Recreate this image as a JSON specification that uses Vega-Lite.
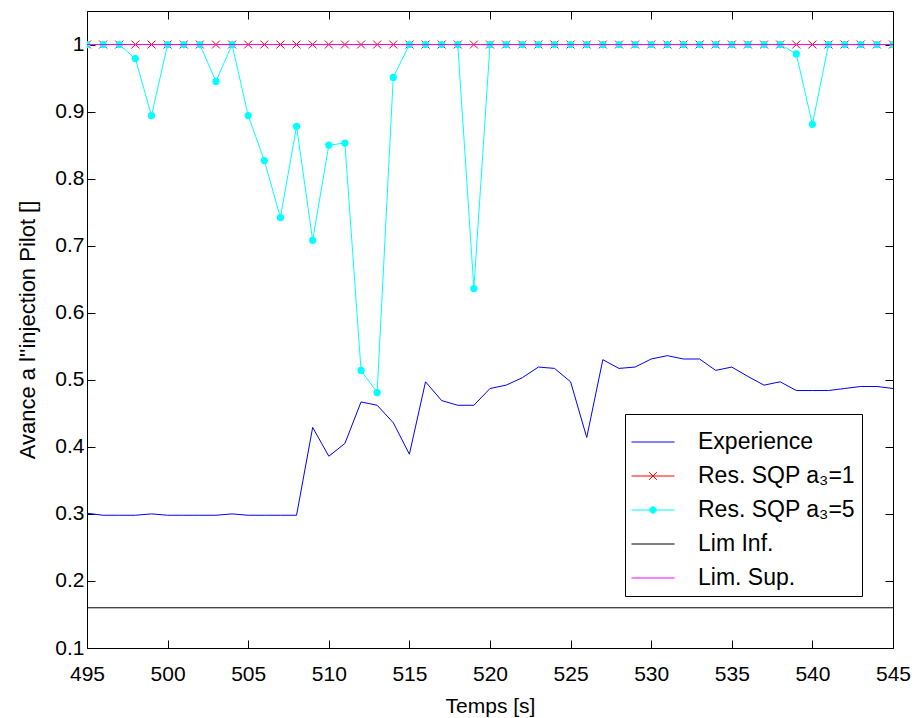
{
  "$schema": "https://vega.github.io/schema/vega-lite/v6.json",
  "width": 806,
  "height": 637,
  "autosize": {"type": "none"},
  "padding": {"left": 87, "top": 11, "right": 24, "bottom": 70},
  "background": "white",
  "config": {
    "font": "Liberation Sans",
    "view": {"stroke": "black", "strokeWidth": 1},
    "axis": {"grid": false, "domain": false, "tickColor": "black", "tickSize": -8, "tickWidth": 1, "labelColor": "black", "labelFontSize": 21, "labelFont": "Liberation Sans", "titleFont": "Liberation Sans", "titleFontSize": 21, "titleFontWeight": "normal", "titleColor": "black"}
  },
  "datasets": {
    "main": [
      {"t": 495, "exp": 0.301, "s1": 1, "s5": 1},
      {"t": 496, "exp": 0.298, "s1": 1, "s5": 1},
      {"t": 497, "exp": 0.298, "s1": 1, "s5": 1},
      {"t": 498, "exp": 0.298, "s1": 1, "s5": 0.979},
      {"t": 499, "exp": 0.300, "s1": 1, "s5": 0.894},
      {"t": 500, "exp": 0.298, "s1": 1, "s5": 1},
      {"t": 501, "exp": 0.298, "s1": 1, "s5": 1},
      {"t": 502, "exp": 0.298, "s1": 1, "s5": 1},
      {"t": 503, "exp": 0.298, "s1": 1, "s5": 0.945},
      {"t": 504, "exp": 0.300, "s1": 1, "s5": 1},
      {"t": 505, "exp": 0.298, "s1": 1, "s5": 0.894},
      {"t": 506, "exp": 0.298, "s1": 1, "s5": 0.827},
      {"t": 507, "exp": 0.298, "s1": 1, "s5": 0.742},
      {"t": 508, "exp": 0.298, "s1": 1, "s5": 0.878},
      {"t": 509, "exp": 0.429, "s1": 1, "s5": 0.708},
      {"t": 510, "exp": 0.386, "s1": 1, "s5": 0.850},
      {"t": 511, "exp": 0.405, "s1": 1, "s5": 0.853},
      {"t": 512, "exp": 0.467, "s1": 1, "s5": 0.514},
      {"t": 513, "exp": 0.462, "s1": 1, "s5": 0.481},
      {"t": 514, "exp": 0.436, "s1": 1, "s5": 0.951},
      {"t": 515, "exp": 0.389, "s1": 1, "s5": 1},
      {"t": 516, "exp": 0.497, "s1": 1, "s5": 1},
      {"t": 517, "exp": 0.469, "s1": 1, "s5": 1},
      {"t": 518, "exp": 0.462, "s1": 1, "s5": 1},
      {"t": 519, "exp": 0.462, "s1": 1, "s5": 0.636},
      {"t": 520, "exp": 0.487, "s1": 1, "s5": 1},
      {"t": 521, "exp": 0.492, "s1": 1, "s5": 1},
      {"t": 522, "exp": 0.503, "s1": 1, "s5": 1},
      {"t": 523, "exp": 0.519, "s1": 1, "s5": 1},
      {"t": 524, "exp": 0.517, "s1": 1, "s5": 1},
      {"t": 525, "exp": 0.497, "s1": 1, "s5": 1},
      {"t": 526, "exp": 0.414, "s1": 1, "s5": 1},
      {"t": 527, "exp": 0.530, "s1": 1, "s5": 1},
      {"t": 528, "exp": 0.517, "s1": 1, "s5": 1},
      {"t": 529, "exp": 0.519, "s1": 1, "s5": 1},
      {"t": 530, "exp": 0.531, "s1": 1, "s5": 1},
      {"t": 531, "exp": 0.536, "s1": 1, "s5": 1},
      {"t": 532, "exp": 0.531, "s1": 1, "s5": 1},
      {"t": 533, "exp": 0.531, "s1": 1, "s5": 1},
      {"t": 534, "exp": 0.514, "s1": 1, "s5": 1},
      {"t": 535, "exp": 0.519, "s1": 1, "s5": 1},
      {"t": 536, "exp": 0.505, "s1": 1, "s5": 1},
      {"t": 537, "exp": 0.492, "s1": 1, "s5": 1},
      {"t": 538, "exp": 0.497, "s1": 1, "s5": 1},
      {"t": 539, "exp": 0.484, "s1": 1, "s5": 0.986},
      {"t": 540, "exp": 0.484, "s1": 1, "s5": 0.881},
      {"t": 541, "exp": 0.484, "s1": 1, "s5": 1},
      {"t": 542, "exp": 0.487, "s1": 1, "s5": 1},
      {"t": 543, "exp": 0.490, "s1": 1, "s5": 1},
      {"t": 544, "exp": 0.490, "s1": 1, "s5": 1},
      {"t": 545, "exp": 0.487, "s1": 1, "s5": 1}
    ],
    "limits": [
      {"t": 495, "inf": 0.16, "sup": 1},
      {"t": 545, "inf": 0.16, "sup": 1}
    ]
  },
  "resolve": {"axis": {"x": "independent", "y": "independent"}},
  "layer": [
    {
      "data": {"name": "main"},
      "mark": {"type": "line", "strokeWidth": 1, "clip": true},
      "encoding": {
        "x": {"field": "t", "type": "quantitative", "scale": {"domain": [495, 545], "nice": false, "zero": false},
              "axis": {"orient": "bottom", "title": "Temps [s]", "values": [495,500,505,510,515,520,525,530,535,540,545], "labelPadding": 23, "titlePadding": 11, "labelFlush": false}},
        "y": {"field": "exp", "type": "quantitative", "scale": {"domain": [0.1, 1.05], "nice": false, "zero": false},
              "axis": {"orient": "left", "title": "Avance a l''injection Pilot []", "titleFontSize": 22, "values": [0.1,0.2,0.3,0.4,0.5,0.6,0.7,0.8,0.9,1], "format": "~g", "labelPadding": 11, "titlePadding": 15, "labelFlush": false}},
        "color": {"datum": "Experience", "type": "nominal",
          "scale": {"domain": ["Experience", "Res. SQP a₃=1", "Res. SQP a₃=5", "Lim Inf.", "Lim. Sup."], "range": ["#0000ff", "#ff0000", "#00ffff", "#000000", "#ff00ff"]},
          "legend": {
            "orient": "none", "legendX": 538, "legendY": 403, "title": null,
            "fillColor": "white", "strokeColor": "black", "padding": 6,
            "labelFontSize": 23, "labelFont": "Liberation Sans", "labelColor": "black", "labelOffset": 23,
            "symbolSize": 1849, "symbolStrokeWidth": 1, "rowPadding": -0.5,
            "encode": {"symbols": {"update": {
              "shape": {"signal": "datum.value === 'Res. SQP a₃=1' ? 'M-1,0L1,0M-0.18,-0.18L0.18,0.18M-0.18,0.18L0.18,-0.18' : datum.value === 'Res. SQP a₃=5' ? 'M-1,0L1,0M0.15,0A0.15,0.15 0 1,1 -0.15,0A0.15,0.15 0 1,1 0.15,0Z' : 'M-1,0L1,0'"},
              "fill": {"signal": "datum.value === 'Res. SQP a₃=5' ? '#00ffff' : 'transparent'"},
              "strokeWidth": {"value": 1}
            }}}
          }}
      }
    },
    {
      "data": {"name": "main"},
      "mark": {"type": "line", "strokeWidth": 1, "clip": true},
      "encoding": {
        "x": {"field": "t", "type": "quantitative",
              "axis": {"orient": "top", "labels": false, "title": null, "values": [495,500,505,510,515,520,525,530,535,540,545]}},
        "y": {"field": "s1", "type": "quantitative",
              "axis": {"orient": "right", "labels": false, "title": null, "values": [0.1,0.2,0.3,0.4,0.5,0.6,0.7,0.8,0.9,1]}},
        "color": {"datum": "Res. SQP a₃=1", "type": "nominal"}
      }
    },
    {
      "data": {"name": "main"},
      "mark": {"type": "point", "shape": "M-1,-1L1,1M-1,1L1,-1", "size": 64, "filled": false, "strokeWidth": 1, "color": "#ff0000", "opacity": 1, "clip": true},
      "encoding": {
        "x": {"field": "t", "type": "quantitative", "axis": null},
        "y": {"field": "s1", "type": "quantitative", "axis": null}
      }
    },
    {
      "data": {"name": "main"},
      "mark": {"type": "line", "strokeWidth": 1, "clip": true},
      "encoding": {
        "x": {"field": "t", "type": "quantitative", "axis": null},
        "y": {"field": "s5", "type": "quantitative", "axis": null},
        "color": {"datum": "Res. SQP a₃=5", "type": "nominal"}
      }
    },
    {
      "data": {"name": "main"},
      "mark": {"type": "point", "shape": "circle", "size": 52, "filled": true, "color": "#00ffff", "opacity": 1, "clip": true},
      "encoding": {
        "x": {"field": "t", "type": "quantitative", "axis": null},
        "y": {"field": "s5", "type": "quantitative", "axis": null}
      }
    },
    {
      "data": {"name": "limits"},
      "mark": {"type": "line", "strokeWidth": 1, "clip": true},
      "encoding": {
        "x": {"field": "t", "type": "quantitative", "axis": null},
        "y": {"field": "inf", "type": "quantitative", "axis": null},
        "color": {"datum": "Lim Inf.", "type": "nominal"}
      }
    },
    {
      "data": {"name": "limits"},
      "mark": {"type": "line", "strokeWidth": 1, "clip": true},
      "encoding": {
        "x": {"field": "t", "type": "quantitative", "axis": null},
        "y": {"field": "sup", "type": "quantitative", "axis": null},
        "color": {"datum": "Lim. Sup.", "type": "nominal"}
      }
    }
  ]
}
